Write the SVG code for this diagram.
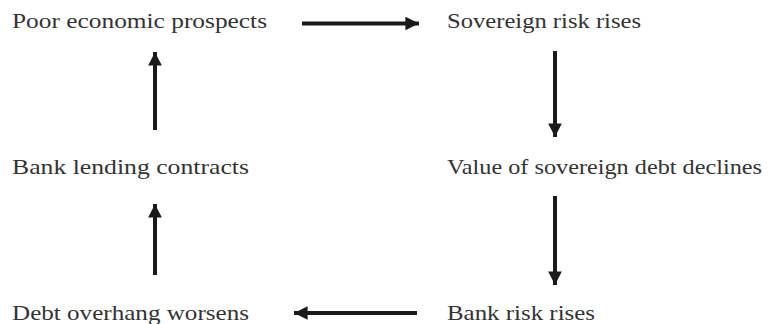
<svg xmlns="http://www.w3.org/2000/svg" width="774" height="324" viewBox="0 0 774 324">
<style>
.t{font-family:"Liberation Serif","Times New Roman",serif;font-size:22px;fill:#333}
.c{stroke:#1a1a1a;stroke-width:4;fill:none}
</style>
<defs>
<marker id="ah" viewBox="0 0 10 10" refX="10" refY="5" markerWidth="3.4" markerHeight="3.5" markerUnits="strokeWidth" orient="auto">
<path d="M0,0 L10,5 L0,10 z" fill="#1a1a1a"/>
</marker>
</defs>
<rect width="774" height="324" fill="#fff"/>
<g id="n1"><text class="t" x="12" y="28" textLength="255" lengthAdjust="spacingAndGlyphs">Poor economic prospects</text></g>
<g id="n2"><text class="t" x="447" y="28" textLength="194" lengthAdjust="spacingAndGlyphs">Sovereign risk rises</text></g>
<g id="n3"><text class="t" x="447" y="174" textLength="315" lengthAdjust="spacingAndGlyphs">Value of sovereign debt declines</text></g>
<g id="n4"><text class="t" x="447" y="320" textLength="148" lengthAdjust="spacingAndGlyphs">Bank risk rises</text></g>
<g id="n5"><text class="t" x="12" y="320" textLength="237" lengthAdjust="spacingAndGlyphs">Debt overhang worsens</text></g>
<g id="n6"><text class="t" x="12" y="174" textLength="237" lengthAdjust="spacingAndGlyphs">Bank lending contracts</text></g>
<g id="connectors">
<line class="c" x1="302" y1="23.5" x2="419" y2="23.5" marker-end="url(#ah)"/>
<line class="c" x1="555" y1="51" x2="555" y2="137" marker-end="url(#ah)"/>
<line class="c" x1="555" y1="196" x2="555" y2="285" marker-end="url(#ah)"/>
<line class="c" x1="417" y1="313" x2="294" y2="313" marker-end="url(#ah)"/>
<line class="c" x1="155" y1="275" x2="155" y2="204" marker-end="url(#ah)"/>
<line class="c" x1="155" y1="130" x2="155" y2="52" marker-end="url(#ah)"/>
</g>
</svg>
